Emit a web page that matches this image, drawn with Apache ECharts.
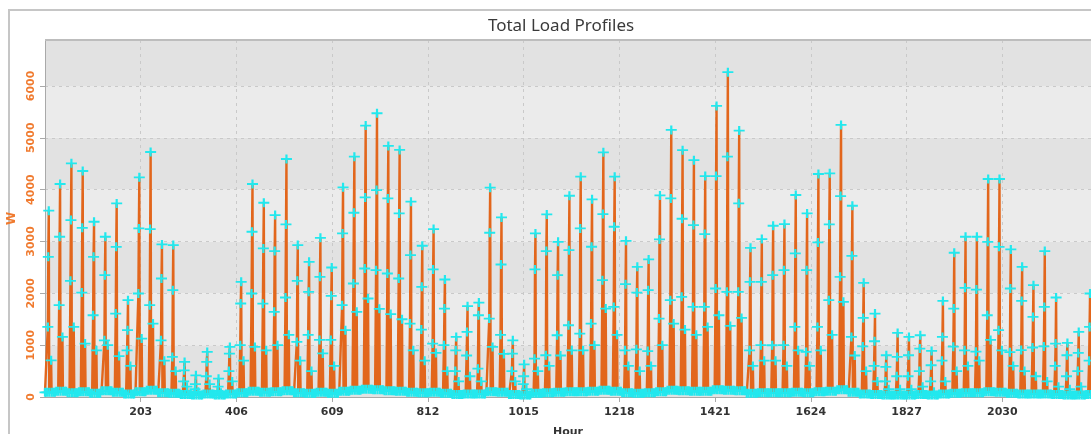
<!DOCTYPE html>
<html>
<head>
<meta charset="utf-8">
<script src="https://cdn.jsdelivr.net/npm/echarts@6/dist/echarts.min.js"></script>
<style>
  html, body { margin: 0; background: #fff; }
  #chart { width: 1091px; height: 434px; }
</style>
</head>
<body>
<div id="chart"></div>
<script>
// daily readings (W), one entry per day starting at hour 0
const peakW = [3593, 4108, 4507, 4359, 3380, 3091, 3734, 1867, 4237, 4726, 2942, 2930, 676, 419, 869, 354, 966, 2221, 4108, 3747,
  3509, 4591, 2930, 2608, 3071, 2498, 4044, 4636, 5235, 5473, 4842, 4765, 3767, 2917, 3239, 2266, 1159, 1751, 1822, 4037,
  3464, 1094, 631, 3155, 3522, 2994, 3882, 4249, 3812, 4720, 4249, 3013, 2511, 2653, 3889, 5151, 4761, 4568, 4262, 5615,
  6265, 5138, 2878, 3046, 3303, 3335, 3896, 3541, 4301, 4314, 5248, 3689, 2202, 1610, 805, 1236, 1159, 1191, 889, 1854,
  2782, 3091, 3091, 4205, 4205, 2846, 2511, 2157, 2814, 1919, 1043, 1256, 1996];
const shoulderW = [2704, 3091, 3413, 3264, 2704, 2350, 2897, 1288, 3251, 3239, 2286, 2060, 515, 250, 676, 200, 837, 1803, 3187, 2865,
  2814, 3329, 2241, 2028, 2318, 1951, 3155, 3554, 3850, 3992, 3831, 3541, 2737, 2125, 2460, 1706, 901, 1256, 1577, 3168,
  2556, 837, 400, 2460, 2814, 2350, 2833, 3251, 2898, 3528, 3284, 2176, 2015, 2060, 3039, 3831, 3438, 3316, 3142, 4262,
  4636, 3735, 2221, 2221, 2350, 2447, 2769, 2447, 2981, 3329, 3876, 2724, 1526, 1075, 580, 773, 805, 934, 612, 1159,
  1706, 2105, 2073, 2994, 2897, 2093, 1854, 1545, 1738, 1030, 805, 850, 1352];
const lowW = [1352, 1771, 2241, 2015, 1577, 1094, 1610, 900, 1996, 1771, 1094, 773, 300, 150, 400, 120, 500, 1000, 1996, 1800,
  1642, 1919, 1062, 1200, 1100, 1100, 1771, 2189, 2479, 2447, 2382, 2286, 1417, 1300, 1030, 1000, 500, 800, 547, 1513,
  1200, 500, 250, 740, 805, 1191, 1384, 1223, 1417, 2254, 1738, 901, 920, 885, 1513, 1867, 1932, 1738, 1738, 2093,
  2028, 2028, 901, 1000, 998, 1000, 1352, 869, 1352, 1867, 2318, 1159, 975, 600, 300, 400, 400, 500, 300, 700,
  970, 900, 875, 1577, 1288, 865, 905, 955, 975, 600, 400, 500, 700];
const eveningW = [708, 1159, 1352, 1030, 900, 1000, 790, 600, 1127, 1417, 700, 500, 200, 100, 250, 80, 300, 700, 966, 900,
  1000, 1200, 700, 500, 840, 600, 1288, 1642, 1900, 1700, 1600, 1500, 900, 700, 850, 500, 300, 400, 300, 966,
  830, 300, 150, 500, 600, 800, 900, 900, 1000, 1706, 1200, 600, 500, 600, 1000, 1417, 1300, 1200, 1352, 1577,
  1371, 1526, 600, 700, 700, 600, 900, 600, 900, 1200, 1835, 800, 500, 300, 150, 150, 150, 200, 100, 300,
  500, 600, 700, 1100, 900, 600, 500, 400, 300, 200, 150, 200, 300];
const baseW = [90, 110, 80, 100, 70, 120, 90, 60, 100, 130, 80, 70, 50, 40, 60, 40, 60, 80, 110, 90,
  100, 120, 80, 70, 90, 70, 110, 130, 150, 140, 120, 110, 90, 80, 90, 70, 50, 60, 60, 100,
  90, 50, 40, 70, 80, 90, 100, 100, 110, 130, 110, 80, 70, 80, 100, 130, 120, 110, 110, 140,
  130, 120, 70, 80, 80, 80, 90, 80, 100, 110, 140, 90, 60, 50, 40, 40, 40, 50, 40, 60,
  70, 80, 80, 100, 90, 70, 60, 60, 60, 50, 40, 40, 50];
const yTicks = [0, 1000, 2000, 3000, 4000, 5000, 6000];
const hourStep = 203;

const points = [];
for (let d = 0; d < peakW.length; d++) {
  const h = d * 24;
  points.push(
    [h, baseW[d]], [h + 4, baseW[d]], [h + 6, lowW[d]], [h + 7, shoulderW[d]], [h + 8, peakW[d]],
    [h + 9, baseW[d]], [h + 13, eveningW[d]], [h + 14, baseW[d]], [h + 18, baseW[d]], [h + 21, baseW[d]]
  );
}

const plus = 'path://M4,0H6V4H10V6H6V10H4V6H0V4H4Z';
const chart = echarts.init(document.getElementById('chart'));
chart.setOption({
  animation: false,
  backgroundColor: '#fff',
  title: {
    text: 'Total Load Profiles',
    left: 556,
    textAlign: 'center',
    top: 13,
    textStyle: { fontFamily: 'Noto Sans', fontSize: 17, fontWeight: 'normal', color: '#3a3a3a' }
  },
  graphic: [
    { type: 'rect', shape: { x: 9, y: 10, width: 1100, height: 440 }, style: { fill: null, stroke: '#c6c6c6', lineWidth: 2 }, silent: true },
    { type: 'line', shape: { x1: 45, y1: 40, x2: 1091, y2: 40 }, style: { stroke: '#bdbdbd', lineWidth: 2 }, z: 10 }
  ],
  grid: { left: 45, top: 40, right: 0, bottom: 37, outerBoundsMode: 'none' },
  xAxis: {
    type: 'value',
    min: 0,
    max: 2218,
    interval: hourStep,
    name: 'Hour',
    nameLocation: 'middle',
    nameGap: 30,
    nameTextStyle: { fontFamily: 'DejaVu Sans', fontWeight: 'bold', fontSize: 11, color: '#333' },
    axisLine: { lineStyle: { color: '#a9a9a9', width: 1 } },
    axisTick: { length: 5, lineStyle: { color: '#a9a9a9' } },
    axisLabel: {
      showMinLabel: false, showMaxLabel: false, fontFamily: 'DejaVu Sans', fontWeight: 'bold', fontSize: 11, color: '#333', margin: 10,
      formatter: (v) => String(v)
    },
    splitLine: { lineStyle: { color: '#c9c9c9', type: [3, 4] } }
  },
  yAxis: {
    type: 'value',
    min: 0,
    max: 6886,
    interval: 1000,
    name: 'W',
    nameLocation: 'middle',
    nameGap: 27,
    nameRotate: 90,
    nameTextStyle: { fontFamily: 'DejaVu Sans', fontSize: 12, fontWeight: 'bold', color: '#f07a2e' },
    axisLine: { show: true, lineStyle: { color: '#a9a9a9', width: 1 } },
    axisTick: { show: true, length: 5, lineStyle: { color: '#a9a9a9' } },
    axisLabel: {
      rotate: 90,
      showMaxLabel: false,
      margin: 8,
      fontFamily: 'DejaVu Sans',
      fontSize: 11,
      fontWeight: 'bold',
      color: '#f07a2e',
      formatter: (v) => (yTicks.includes(v) ? String(v) : '')
    },
    splitLine: { lineStyle: { color: '#c9c9c9', type: [3, 4] } },
    splitArea: { show: true, areaStyle: { color: ['#e2e2e2', '#ebebeb'] } }
  },
  series: [{
    type: 'line',
    data: points,
    symbol: plus,
    symbolSize: [11, 9],
    showSymbol: true,
    itemStyle: { color: '#22e8ee' },
    lineStyle: { color: '#e2661c', width: 2.4 },
    z: 3
  }]
});
</script>
</body>
</html>
